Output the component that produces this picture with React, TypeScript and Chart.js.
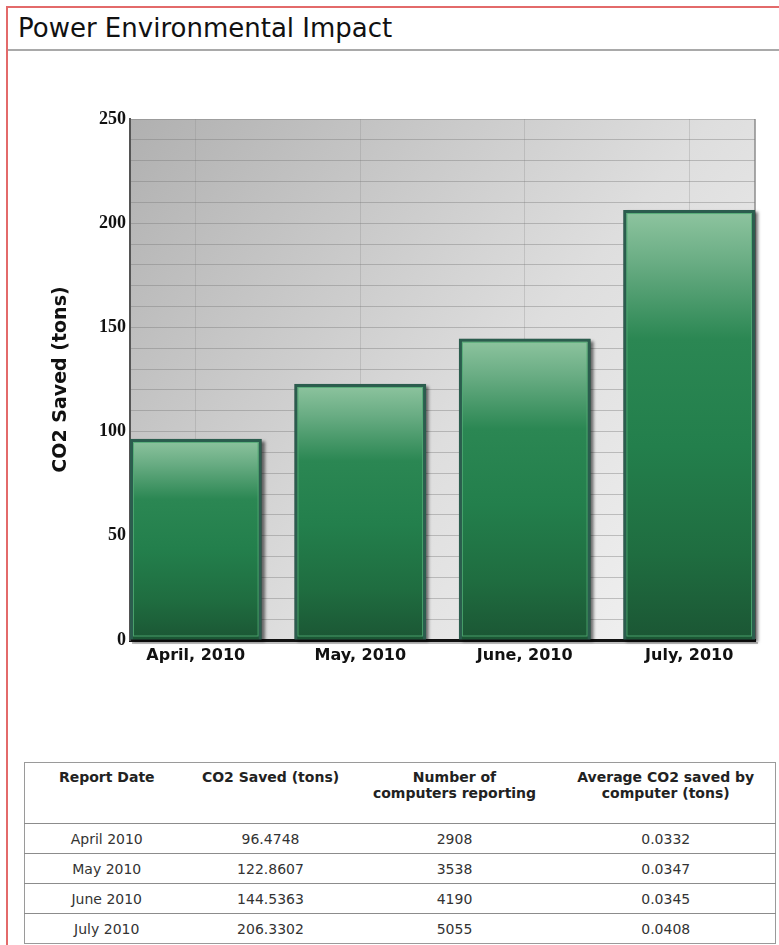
import React, { useEffect, useRef } from "react";
import { Chart, registerables } from "chart.js";

Chart.register(...registerables);

const categories = ["April, 2010", "May, 2010", "June, 2010", "July, 2010"];
const co2Values = [96.4748, 122.8607, 144.5363, 206.3302];
const reportDates = ["April 2010", "May 2010", "June 2010", "July 2010"];
const computersReporting = [2908, 3538, 4190, 5055];
const avgPerComputer = ["0.0332", "0.0347", "0.0345", "0.0408"];
const yTickLabels = [0, 50, 100, 150, 200, 250];

const decorPlugin = {
  id: "decor",
  beforeDraw(chart: any) {
    const { ctx, chartArea: a } = chart;
    if (!a) return;
    const g = ctx.createLinearGradient(a.left, a.top, a.right, a.bottom);
    g.addColorStop(0, "#b0b0b0");
    g.addColorStop(0.55, "#dedede");
    g.addColorStop(1, "#f5f5f5");
    ctx.save();
    ctx.fillStyle = g;
    ctx.fillRect(a.left, a.top, a.right - a.left, a.bottom - a.top);
    ctx.strokeStyle = "#8c8c8c";
    ctx.lineWidth = 1.5;
    ctx.beginPath();
    ctx.moveTo(a.right, a.top);
    ctx.lineTo(a.right, a.bottom);
    ctx.stroke();
    ctx.restore();
  },
  beforeDatasetDraw(chart: any, args: any) {
    const { ctx } = chart;
    ctx.save();
    ctx.shadowColor = "rgba(0,0,0,0.55)";
    ctx.shadowOffsetX = 3;
    ctx.shadowOffsetY = 2;
    ctx.shadowBlur = 3;
    ctx.fillStyle = "#2a4a40";
    args.meta.data.forEach((el: any) => {
      const { x, y, base, width } = el.getProps(["x", "y", "base", "width"], true);
      ctx.fillRect(x - width / 2, y, width, base - y);
    });
    ctx.restore();
  },
  afterDatasetDraw(chart: any, args: any) {
    const { ctx } = chart;
    ctx.save();
    ctx.strokeStyle = "rgba(80,170,115,0.85)";
    ctx.lineWidth = 1;
    args.meta.data.forEach((el: any) => {
      const { x, y, base, width } = el.getProps(["x", "y", "base", "width"], true);
      ctx.strokeRect(x - width / 2 + 3.5, y + 3.5, width - 7, base - y - 7);
    });
    ctx.restore();
  },
  afterDraw(chart: any) {
    const { ctx, chartArea: a } = chart;
    if (!a) return;
    ctx.save();
    ctx.strokeStyle = "rgba(0,0,0,0.25)";
    ctx.lineWidth = 2;
    ctx.beginPath();
    ctx.moveTo(a.left + 2, a.bottom + 3);
    ctx.lineTo(a.right + 3, a.bottom + 3);
    ctx.stroke();
    ctx.restore();
  },
};

function barGradient(c: any) {
  const chart = c.chart;
  const ys = chart.scales && chart.scales.y;
  if (!chart.chartArea || !ys || c.raw == null) return "#237f4c";
  const v = typeof c.raw === "object" ? c.raw.y : c.raw;
  const top = ys.getPixelForValue(v);
  const bottom = ys.getPixelForValue(0);
  const g = chart.ctx.createLinearGradient(0, top, 0, bottom);
  g.addColorStop(0, "#8fc5a0");
  g.addColorStop(0.12, "#6aad84");
  g.addColorStop(0.3, "#2b8753");
  g.addColorStop(0.55, "#237f4c");
  g.addColorStop(0.8, "#1f6d40");
  g.addColorStop(1, "#1b5634");
  return g;
}

function ChartView() {
  const ref = useRef<HTMLCanvasElement | null>(null);
  useEffect(() => {
    if (!ref.current) return;
    const chart = new Chart(ref.current, {
      type: "bar",
      data: {
        datasets: [
          {
            label: "CO2 Saved (tons)",
            data: co2Values.map((v, i) => ({ x: i, y: v })),
            backgroundColor: barGradient as any,
            borderColor: "#2b5d4e",
            borderWidth: 3,
            barPercentage: 0.8,
            categoryPercentage: 1,
          },
        ],
      },
      options: {
        animation: false,
        responsive: true,
        maintainAspectRatio: false,
        layout: { padding: { left: 46, top: 59, right: 24, bottom: 0 } },
        plugins: { legend: { display: false }, tooltip: { enabled: false } },
        scales: {
          x: {
            type: "linear",
            min: -0.4,
            max: 3.4,
            offset: false,
            grid: { offset: false, color: "rgba(140,140,140,0.3)", drawTicks: false },
            border: { color: "#111", width: 3 },
            ticks: {
              stepSize: 1,
              includeBounds: false,
              autoSkip: false,
              maxRotation: 0,
              padding: 6,
              color: "#111",
              font: { family: "'DejaVu Sans', Verdana, sans-serif", weight: "bold", size: 16 },
              callback: (v: any) => (Number.isInteger(v) && categories[v] ? categories[v] : ""),
            },
            afterFit: (s: any) => {
              s.height = 70;
            },
          } as any,
          y: {
            min: 0,
            max: 250,
            grid: { color: "rgba(120,120,120,0.4)", drawTicks: false },
            border: { color: "#555", width: 2 },
            ticks: {
              stepSize: 10,
              autoSkip: false,
              padding: 4,
              color: "#111",
              font: { family: "'Liberation Serif', 'Times New Roman', serif", weight: "bold", size: 18 },
              callback: (v: any) => (yTickLabels.includes(v) ? String(v) : ""),
            },
            title: {
              display: true,
              text: "CO2 Saved (tons)",
              color: "#111",
              font: { family: "'DejaVu Sans', Verdana, sans-serif", weight: "bold", size: 19 },
            },
            afterFit: (s: any) => {
              s.width = 84;
            },
          } as any,
        },
      },
      plugins: [decorPlugin],
    } as any);
    return () => chart.destroy();
  }, []);
  return <canvas ref={ref} />;
}

const cellFont = "'DejaVu Sans', Verdana, sans-serif";

export default function App() {
  const colWidths = [164, 164, 204, 219];
  const bodyCell: React.CSSProperties = {
    textAlign: "center",
    height: 29,
    padding: 0,
    fontSize: 14,
    color: "#333",
    borderTop: "1px solid #8c8c8c",
    verticalAlign: "middle",
  };
  const headCell: React.CSSProperties = {
    textAlign: "center",
    verticalAlign: "top",
    fontWeight: "bold",
    fontSize: 14,
    lineHeight: "16px",
    color: "#222",
    padding: "6px 4px 0 4px",
    height: 54,
  };
  return (
    <div
      style={{
        position: "absolute",
        left: 0,
        top: 0,
        width: 779,
        height: 945,
        overflow: "hidden",
        background: "#fff",
        fontFamily: cellFont,
      }}
    >
      <div
        style={{
          position: "absolute",
          left: 6,
          top: 6,
          width: 820,
          height: 1000,
          border: "2px solid #e36a6a",
        }}
      />
      <div
        style={{
          position: "absolute",
          left: 18,
          top: 12,
          fontSize: 26,
          lineHeight: "32px",
          color: "#111",
          whiteSpace: "nowrap",
        }}
      >
        Power Environmental Impact
      </div>
      <div style={{ position: "absolute", left: 8, top: 49, width: 771, height: 2, background: "#a9a9a9" }} />
      <div style={{ position: "absolute", left: 0, top: 60, width: 779, height: 650 }}>
        <ChartView />
      </div>
      <table
        style={{
          position: "absolute",
          left: 24,
          top: 762,
          width: 751,
          borderCollapse: "collapse",
          tableLayout: "fixed",
          border: "1px solid #9a9a9a",
          fontFamily: cellFont,
        }}
      >
        <colgroup>
          {colWidths.map((w, i) => (
            <col key={i} style={{ width: w }} />
          ))}
        </colgroup>
        <thead>
          <tr>
            <th style={headCell}>Report Date</th>
            <th style={headCell}>CO2 Saved (tons)</th>
            <th style={headCell}>
              Number of
              <br />
              computers reporting
            </th>
            <th style={headCell}>
              Average CO2 saved by
              <br />
              computer (tons)
            </th>
          </tr>
        </thead>
        <tbody>
          {reportDates.map((d, i) => (
            <tr key={d}>
              <td style={bodyCell}>{d}</td>
              <td style={bodyCell}>{co2Values[i].toFixed(4)}</td>
              <td style={bodyCell}>{computersReporting[i]}</td>
              <td style={bodyCell}>{avgPerComputer[i]}</td>
            </tr>
          ))}
        </tbody>
      </table>
    </div>
  );
}
